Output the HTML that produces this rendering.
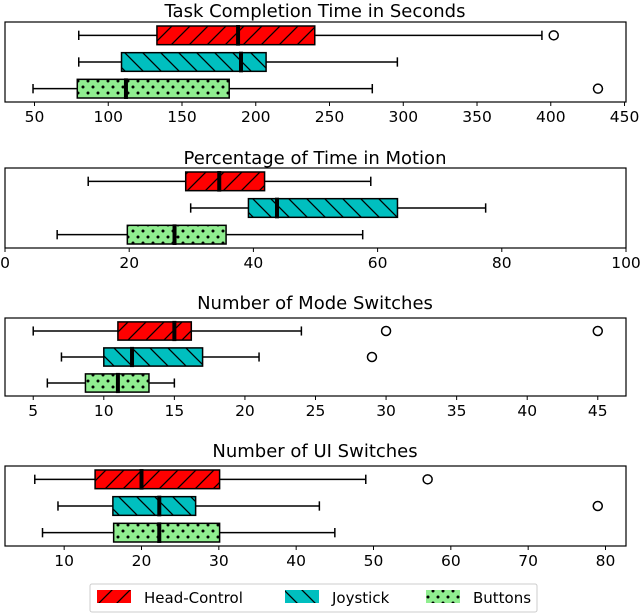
<!DOCTYPE html>
<html><head><meta charset="utf-8">
<style>
body{margin:0;background:#fff;}
svg{display:block;font-family:"DejaVu Sans","Liberation Sans",sans-serif;}
</style></head>
<body>
<svg id="chart" width="640" height="615" viewBox="0 0 640 615">
<defs>
<pattern id="hatch-fwd" patternUnits="userSpaceOnUse" width="18" height="18">
<path d="M-2,20 L20,-2 M-2,2 L2,-2 M16,20 L20,16" stroke="#000" stroke-width="1.3"/>
</pattern>
<pattern id="hatch-back" patternUnits="userSpaceOnUse" width="18" height="18">
<path d="M-2,-2 L20,20 M-2,16 L2,20 M16,-2 L20,2" stroke="#000" stroke-width="1.3"/>
</pattern>
<pattern id="hatch-dot" patternUnits="userSpaceOnUse" width="10" height="12">
<circle cx="3" cy="3" r="1.5" fill="#000"/><circle cx="8" cy="9" r="1.5" fill="#000"/>
</pattern>
</defs>
</svg>
<script>
// Series order: Head-Control, Joystick, Buttons
const seriesNames = ["Head-Control", "Joystick", "Buttons"];
const panelTitles = ["Task Completion Time in Seconds", "Percentage of Time in Motion", "Number of Mode Switches", "Number of UI Switches"];
// [whiskerLow, q1, median, q3, whiskerHigh]
const taskTime = [[80, 133, 188, 240, 394], [80, 109, 190, 207, 296], [49, 79, 112, 182, 279]];
const taskTimeOutliers = [[402], [], [432]];
const motionPct = [[13.4, 29.1, 34.5, 41.8, 58.9], [29.9, 39.2, 43.8, 63.2, 77.4], [8.4, 19.7, 27.3, 35.6, 57.6]];
const motionPctOutliers = [[], [], []];
const modeSwitches = [[5, 11, 15, 16.2, 24], [7, 10, 12, 17, 21], [6, 8.7, 11, 13.2, 15]];
const modeSwitchesOutliers = [[30, 45], [29], []];
const uiSwitches = [[6.2, 14, 20, 30.1, 49], [9.2, 16.3, 22.3, 27, 43], [7.2, 16.4, 22.3, 30.1, 45]];
const uiSwitchesOutliers = [[57], [79], []];
const xRanges = [[30, 451], [0, 100], [3, 47], [2.35, 82.65]];
const ticks1 = [50, 100, 150, 200, 250, 300, 350, 400, 450];
const ticks2 = [0, 20, 40, 60, 80, 100];
const ticks3 = [5, 10, 15, 20, 25, 30, 35, 40, 45];
const ticks4 = [10, 20, 30, 40, 50, 60, 70, 80];

const NS = "http://www.w3.org/2000/svg";
const svg = document.getElementById("chart");
const fills = ["#ff0000", "#00bfbf", "#90ee90"];
const hatches = ["url(#hatch-fwd)", "url(#hatch-back)", "url(#hatch-dot)"];
const slugs = ["head-control", "joystick", "buttons"];
function mk(tag, attrs, parent) {
  const e = document.createElementNS(NS, tag);
  for (const k in attrs) e.setAttribute(k, attrs[k]);
  (parent || svg).appendChild(e);
  return e;
}
const L = 5, R = 626;
const panels = [
  {data: taskTime, out: taskTimeOutliers, ticks: ticks1, top: 22, bot: 102, title: 10, name: "task-time"},
  {data: motionPct, out: motionPctOutliers, ticks: ticks2, top: 168, bot: 248, title: 157, name: "motion-pct"},
  {data: modeSwitches, out: modeSwitchesOutliers, ticks: ticks3, top: 318, bot: 396, title: 302, name: "mode-switches"},
  {data: uiSwitches, out: uiSwitchesOutliers, ticks: ticks4, top: 466, bot: 546, title: 450, name: "ui-switches"}
];
panels.forEach((p, pi) => {
  const g = mk("g", {});
  
  
  const [x0, x1] = xRanges[pi];
  const xs = v => L + (v - x0) / (x1 - x0) * (R - L);
  const H = p.bot - p.top;
  const ys = pos => p.bot - (pos - 0.5) / 3 * H; // pos 1..3
  const t = mk("text", {x: 315, y: p.title + 7, "text-anchor": "middle", "font-size": 18}, g);
  t.textContent = panelTitles[pi];
  
  
  p.data.forEach((d, si) => {
    const pos = 3 - si;
    const yc = ys(pos), bh = 0.7 / 3 * H, ch = 0.35 / 3 * H;
    const bg = mk("g", {}, g);
    
    
    mk("line", {x1: xs(d[0]), x2: xs(d[1]), y1: yc, y2: yc, stroke: "#000", "stroke-width": 1.5}, bg);
    mk("line", {x1: xs(d[3]), x2: xs(d[4]), y1: yc, y2: yc, stroke: "#000", "stroke-width": 1.5}, bg);
    mk("line", {x1: xs(d[0]), x2: xs(d[0]), y1: yc - ch / 2, y2: yc + ch / 2, stroke: "#000", "stroke-width": 1.5}, bg);
    mk("line", {x1: xs(d[4]), x2: xs(d[4]), y1: yc - ch / 2, y2: yc + ch / 2, stroke: "#000", "stroke-width": 1.5}, bg);
    mk("rect", {x: xs(d[1]), y: yc - bh / 2, width: xs(d[3]) - xs(d[1]), height: bh, fill: fills[si]}, bg);
    mk("rect", {x: xs(d[1]), y: yc - bh / 2, width: xs(d[3]) - xs(d[1]), height: bh, fill: hatches[si], stroke: "#000", "stroke-width": 1.5}, bg);
    mk("line", {x1: xs(d[2]), x2: xs(d[2]), y1: yc - bh / 2 - 1, y2: yc + bh / 2 + 1, stroke: "#000", "stroke-width": 4}, bg);
    p.out[si].forEach(o => {
      const c = mk("circle", {cx: xs(o), cy: yc, r: 4.5, fill: "none", stroke: "#000", "stroke-width": 1.5}, bg);
      
      
    });
  });
  const fr = mk("rect", {x: L, y: p.top, width: R - L, height: H, fill: "none", stroke: "#000", "stroke-width": 1.2}, g);
  
  
  const ax = mk("g", {}, g);
  
  
  p.ticks.forEach(tv => {
    const x = xs(tv);
    mk("line", {x1: x, x2: x, y1: p.bot, y2: p.bot + 4, stroke: "#000", "stroke-width": 1}, ax);
    const tl = mk("text", {x: x, y: p.bot + 20, "text-anchor": "middle", "font-size": 15.5}, ax);
    tl.textContent = tv;
  });
});
// legend
const lg = mk("g", {});


mk("rect", {x: 90, y: 584, width: 447, height: 28, fill: "#fff", stroke: "#ccc", "stroke-width": 1, rx: 2}, lg);
const legX = [97, 285, 426];
seriesNames.forEach((n, i) => {
  const e = mk("g", {}, lg);
  
  
  mk("rect", {x: legX[i], y: 590, width: 34, height: 13, fill: fills[i]}, e);
  mk("rect", {x: legX[i], y: 590, width: 34, height: 13, fill: hatches[i]}, e);
  const tx = mk("text", {x: legX[i] + 47, y: 603, "font-size": 15}, e);
  tx.textContent = n;
});
</script>
</body></html>
